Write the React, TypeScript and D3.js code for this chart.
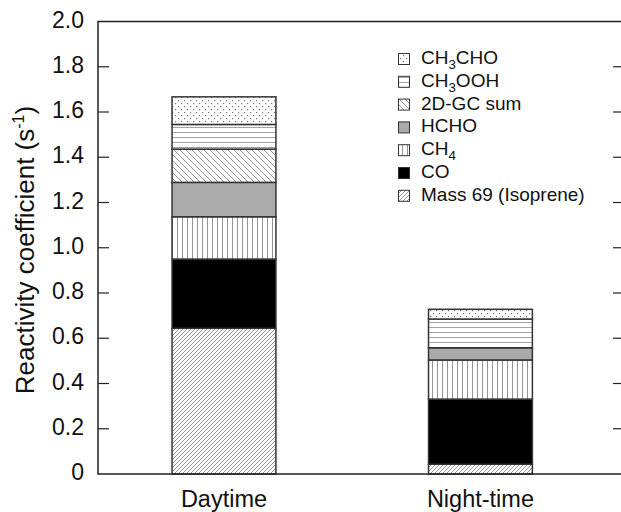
import React from "react";
import * as d3 from "d3";

const categories = ["Daytime", "Night-time"];
const seriesNames = ["Mass 69 (Isoprene)", "CO", "CH4", "HCHO", "2D-GC sum", "CH3OOH", "CH3CHO"];
const isoprene = [0.644, 0.043];
const co = [0.306, 0.288];
const ch4 = [0.187, 0.173];
const hcho = [0.152, 0.054];
const gcSum = [0.147, 0.0];
const ch3ooh = [0.109, 0.127];
const ch3cho = [0.122, 0.043];
const yTicks = [0, 0.2, 0.4, 0.6, 0.8, 1.0, 1.2, 1.4, 1.6, 1.8, 2.0];

const seriesValues = [isoprene, co, ch4, hcho, gcSum, ch3ooh, ch3cho];
const fills = ["url(#pIso)", "#000", "url(#pCH4)", "#aaaaaa", "url(#pGC)", "url(#pOOH)", "url(#pCHO)"];

const W = 621, H = 512;
const M = { left: 98, right: 624, top: 21.5, bottom: 474 };
const FONT = "'Liberation Sans', Arial, Helvetica, sans-serif";

function Label({ name, x, y, size }: { name: string; x: number; y: number; size: number }) {
  const m = name.match(/^CH(\d)(.*)$/);
  if (m) {
    return (
      <text x={x} y={y} fontSize={size} fontFamily={FONT} dominantBaseline="middle" fill="#111">
        CH<tspan fontSize={size * 0.7} dy={size * 0.3}>{m[1]}</tspan>
        {m[2] && <tspan dy={-size * 0.3}>{m[2]}</tspan>}
      </text>
    );
  }
  return (
    <text x={x} y={y} fontSize={size} fontFamily={FONT} dominantBaseline="middle" fill="#111">
      {name}
    </text>
  );
}

export default function App() {
  const y = d3.scaleLinear().domain([0, 2]).range([M.bottom, M.top]);
  const x = d3
    .scaleBand()
    .domain(categories)
    .range([M.left, M.right])
    .paddingInner(0.595)
    .paddingOuter(0.323)
    .align(0.447);
  const stackData = categories.map((c, i) => {
    const row: any = { cat: c };
    seriesNames.forEach((s, j) => (row[s] = seriesValues[j][i]));
    return row;
  });
  const stacked = d3.stack().keys(seriesNames)(stackData as any);
  const bw = x.bandwidth();
  const legendOrder = [...seriesNames.keys()].reverse();

  return (
    <svg width={W} height={H} style={{ position: "absolute", left: 0, top: 0 }}>
      <defs>
        <pattern id="pIso" patternUnits="userSpaceOnUse" width={4} height={4}>
          <rect width={4} height={4} fill="#fff" />
          <path d="M0,4 L4,0 M-1,1 L1,-1 M3,5 L5,3" stroke="#888" strokeWidth={0.9} />
        </pattern>
        <pattern id="pGC" patternUnits="userSpaceOnUse" width={6} height={6}>
          <rect width={6} height={6} fill="#fff" />
          <path d="M0,0 L6,6 M-1,5 L1,7 M5,-1 L7,1" stroke="#888" strokeWidth={0.9} />
        </pattern>
        <pattern id="pCH4" patternUnits="userSpaceOnUse" width={5} height={5}>
          <rect width={5} height={5} fill="#fff" />
          <path d="M2.5,0 L2.5,5" stroke="#888" strokeWidth={0.9} />
        </pattern>
        <pattern id="pOOH" patternUnits="userSpaceOnUse" width={5} height={5}>
          <rect width={5} height={5} fill="#fff" />
          <path d="M0,2.5 L5,2.5" stroke="#999" strokeWidth={0.9} />
        </pattern>
        <pattern id="pCHO" patternUnits="userSpaceOnUse" width={6} height={6}>
          <rect width={6} height={6} fill="#fff" />
          <rect x={1} y={1} width={1.2} height={1.2} fill="#777" />
          <rect x={4} y={4} width={1.2} height={1.2} fill="#777" />
        </pattern>
      </defs>

      {/* bars */}
      {stacked.map((layer, j) =>
        layer.map((d, i) => {
          const h = y(d[0]) - y(d[1]);
          if (h <= 0.01) return null;
          return (
            <rect
              key={`${j}-${i}`}
              x={x(categories[i])!}
              y={y(d[1])}
              width={bw}
              height={h}
              fill={fills[j]}
              stroke="#333"
              strokeWidth={1.5}
            />
          );
        })
      )}

      {/* frame */}
      <path
        d={`M${M.right},${M.top} L${M.left},${M.top} L${M.left},${M.bottom} L${M.right},${M.bottom} Z`}
        fill="none"
        stroke="#222"
        strokeWidth={1.5}
      />
      {yTicks.map((t) => (
        <g key={t}>
          {t > 0 && t < 2 && (
            <>
              <line x1={M.left} x2={M.left + 11} y1={y(t)} y2={y(t)} stroke="#222" strokeWidth={1.2} />
              <line x1={M.right - 11} x2={M.right} y1={y(t)} y2={y(t)} stroke="#222" strokeWidth={1.2} />
            </>
          )}
          <text
            x={M.left - 14}
            y={y(t)}
            textAnchor="end"
            dominantBaseline="middle"
            fontSize={23}
            fontFamily={FONT}
            fill="#111"
          >
            {t === 0 ? "0" : d3.format(".1f")(t)}
          </text>
        </g>
      ))}

      {/* x labels */}
      {categories.map((c) => (
        <text
          key={c}
          x={x(c)! + bw / 2}
          y={507}
          textAnchor="middle"
          fontSize={23.5}
          fontFamily={FONT}
          fill="#111"
        >
          {c}
        </text>
      ))}

      {/* y title */}
      <text
        transform={`translate(34,250) rotate(-90)`}
        textAnchor="middle"
        fontSize={26}
        fontFamily={FONT}
        fill="#111"
      >
        Reactivity coefficient (s<tspan fontSize={16} dy={-10}>-1</tspan>
        <tspan dy={10}>)</tspan>
      </text>

      {/* legend */}
      {legendOrder.map((j, k) => {
        const cy = 59 + k * 22.8;
        return (
          <g key={j}>
            <rect x={398.5} y={cy - 5.5} width={11} height={11} fill={fills[j]} stroke="#333" strokeWidth={1} />
            <Label name={seriesNames[j]} x={421} y={cy} size={19} />
          </g>
        );
      })}
    </svg>
  );
}
